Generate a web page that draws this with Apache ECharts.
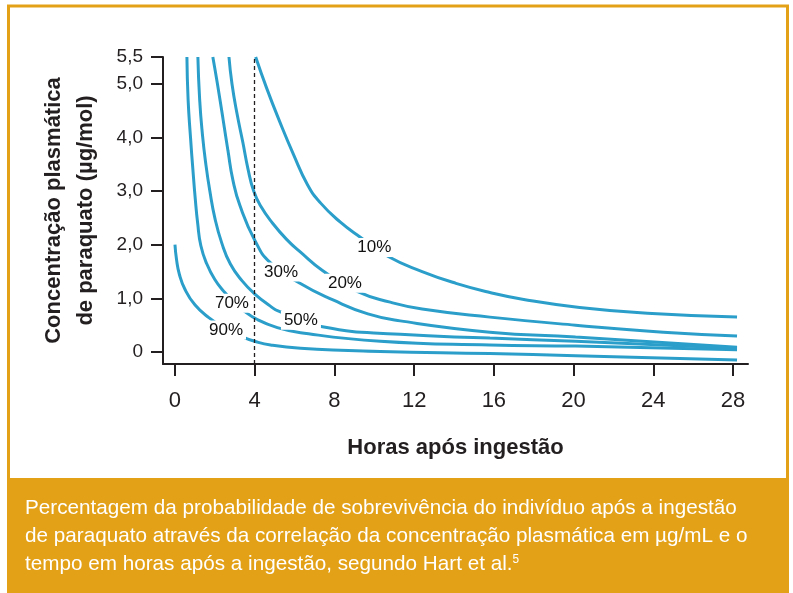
<!DOCTYPE html>
<html>
<head>
    <meta http-equiv="Content-Type" content="text/html; charset=utf-8"/>
    <title>Paraquato</title>
    <script src="https://cdn.jsdelivr.net/npm/echarts@6/dist/echarts.min.js"></script>
    <style>
        body { margin: 0; background: #fff; }
        #main { width: 793px; height: 593px; }
    </style>
</head>
<body>
<div id="main"></div>
<script type="text/javascript">
    // horas após ingestão x concentração
    var curve10 = [[4.05, 5.5], [4.6, 4.92], [5.25, 4.3], [5.95, 3.68], [6.65, 3.12], [7.3, 2.78], [8.3, 2.42],
        [9.3, 2.14], [10.7, 1.78], [12.4, 1.50], [14.1, 1.28], [15.8, 1.11], [17.5, 0.98], [20.3, 0.83],
        [23.7, 0.72], [28.2, 0.65]];
    var curve20 = [[2.71, 5.5], [2.86, 5.0], [3.11, 4.45], [3.41, 3.90], [3.66, 3.42], [3.95, 3.0], [4.3, 2.72],
        [4.9, 2.40], [5.6, 2.10], [6.3, 1.86], [7.4, 1.52], [9.2, 1.12], [10.8, 0.93], [12.4, 0.80],
        [15.8, 0.65], [20.1, 0.50], [24.5, 0.37], [28.2, 0.30]];
    var curve30 = [[1.9, 5.5], [2.13, 5.0], [2.4, 4.37], [2.66, 3.75], [2.91, 3.20], [3.26, 2.73], [4.01, 2.08],
        [4.77, 1.67], [6.27, 1.28], [7.93, 0.97], [9.68, 0.71], [11.3, 0.58], [15.8, 0.37], [20.1, 0.28],
        [28.2, 0.09]];
    var curve50 = [[1.15, 5.5], [1.24, 4.7], [1.38, 4.05], [1.55, 3.5], [1.75, 3.0], [2.0, 2.5], [2.35, 2.03],
        [2.78, 1.64], [3.36, 1.33], [4.01, 1.08], [4.77, 0.86], [5.2, 0.76], [7.4, 0.47], [11.3, 0.33],
        [15.8, 0.26], [20.1, 0.20], [28.2, 0.07]];
    var curve70 = [[0.6, 5.5], [0.66, 4.7], [0.78, 4.0], [0.9, 3.4], [1.02, 2.85], [1.14, 2.4], [1.3, 1.98],
        [1.6, 1.64], [2.0, 1.35], [2.45, 1.13], [2.95, 0.93], [3.45, 0.77], [4.11, 0.61], [5.1, 0.46],
        [6.3, 0.36], [10.3, 0.20], [15.8, 0.13], [20.1, 0.11], [28.2, 0.04]];
    var curve90 = [[0, 2.0], [0.08, 1.72], [0.22, 1.45], [0.5, 1.17], [1.0, 0.88], [1.7, 0.64], [2.5, 0.44],
        [3.4, 0.28], [4.0, 0.20], [4.8, 0.13], [6.3, 0.07], [10.3, 0.01], [15.8, -0.03], [20.1, -0.07],
        [28.2, -0.15]];

    var curveNames = ['10%', '20%', '30%', '50%', '70%', '90%'];
    var curves = [curve10, curve20, curve30, curve50, curve70, curve90];
    // onde fica o rótulo de cada curva
    var labelSpots = [[10.0, 1.95], [8.53, 1.28], [5.32, 1.49], [6.32, 0.59], [2.86, 0.91], [2.56, 0.41]];

    var xTicks = [0, 4, 8, 12, 16, 20, 24, 28];
    var yTicks = [0, 1, 2, 3, 4, 5, 5.5];
    var cutHour = 4;

    var blue = '#2b9fca';
    var orange = '#e3a118';
    var ink = '#231f20';
    var sans = '"Liberation Sans", Arial, sans-serif';

    var myChart = echarts.init(document.getElementById('main'));

    var series = curves.map(function (c, i) {
        return {
            name: curveNames[i],
            type: 'line',
            data: c,
            showSymbol: false,
            smooth: 0.5,
            lineStyle: {color: blue, width: 3},
            silent: true
        };
    });
    // linha tracejada das 4 horas
    series[0].markLine = {
        silent: true,
        symbol: 'none',
        label: {show: false},
        lineStyle: {color: ink, type: [4, 3], width: 1.3},
        data: [{xAxis: cutHour}]
    };
    series.push({
        name: 'rotulos',
        type: 'scatter',
        symbolSize: 0,
        itemStyle: {opacity: 1},
        data: labelSpots.map(function (p, i) {
            return {value: p, name: curveNames[i]};
        }),
        label: {
            show: true,
            position: 'inside',
            formatter: '{b}',
            color: '#111',
            fontFamily: sans,
            fontSize: 17,
            backgroundColor: '#fff',
            padding: [1, 3]
        },
        z: 5
    });

    myChart.setOption({
        animation: false,
        grid: {left: 163, right: 45, top: 57, bottom: 229},
        xAxis: {
            type: 'value',
            min: -0.6,
            max: 28.75,
            name: 'Horas após ingestão',
            nameLocation: 'middle',
            nameGap: 73,
            nameTextStyle: {fontFamily: sans, fontWeight: 'bold', fontSize: 22, color: ink},
            axisLine: {show: true, onZero: false, lineStyle: {color: ink, width: 2}},
            axisTick: {show: true, length: 12, customValues: xTicks, lineStyle: {color: ink, width: 2}},
            axisLabel: {
                customValues: xTicks, margin: 26, fontFamily: sans, fontSize: 22, color: ink
            },
            splitLine: {show: false}
        },
        yAxis: {
            type: 'value',
            min: -0.224,
            max: 5.5,
            name: 'Concentração plasmática\nde paraquato (µg/mol)',
            nameLocation: 'middle',
            nameRotate: 90,
            nameGap: 61,
            nameTextStyle: {fontFamily: sans, fontWeight: 'bold', fontSize: 22, color: ink, lineHeight: 32},
            axisLine: {show: true, onZero: false, lineStyle: {color: ink, width: 2}},
            axisTick: {show: true, length: 12, customValues: yTicks, lineStyle: {color: ink, width: 2}},
            axisLabel: {
                customValues: yTicks, margin: 20, fontFamily: sans, fontSize: 19, color: ink,
                formatter: function (v) {
                    return v === 0 ? '0' : v.toFixed(1).replace('.', ',');
                }
            },
            splitLine: {show: false}
        },
        graphic: [
            {
                type: 'rect', z: -10,
                shape: {x: 8.5, y: 6, width: 779, height: 600},
                style: {fill: '#fff', stroke: orange, lineWidth: 3}
            },
            {
                type: 'rect', z: -9,
                shape: {x: 7, y: 478, width: 782, height: 120},
                style: {fill: orange}
            },
            {
                type: 'text', x: 25, y: 498, scaleX: 0.985,
                style: {
                    text: 'Percentagem da probabilidade de sobrevivência do indivíduo após a ingestão',
                    fill: '#fff', fontSize: 21, fontFamily: sans
                }
            },
            {
                type: 'text', x: 25, y: 526, scaleX: 0.985,
                style: {
                    text: 'de paraquato através da correlação da concentração plasmática em µg/mL e o',
                    fill: '#fff', fontSize: 21, fontFamily: sans
                }
            },
            {
                type: 'text', x: 25, y: 554, scaleX: 0.985,
                style: {
                    text: '{t|tempo em horas após a ingestão, segundo Hart et al.}{s|5}',
                    fill: '#fff',
                    rich: {
                        t: {fontSize: 21, fontFamily: sans, fill: '#fff'},
                        s: {fontSize: 12, fontFamily: sans, fill: '#fff', verticalAlign: 'top', padding: [0, 0, 8, 0]}
                    }
                }
            }
        ],
        series: series
    });
</script>
</body>
</html>
